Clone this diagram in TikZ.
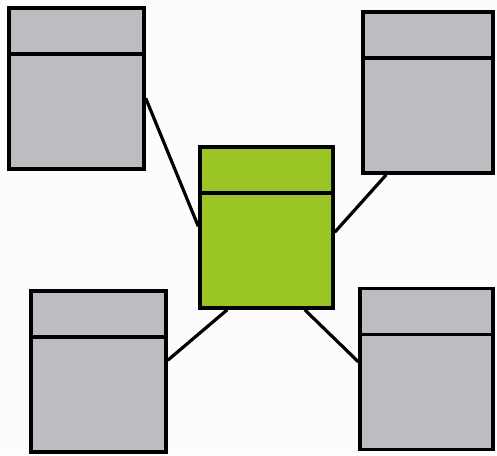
\documentclass[tikz,border=0pt]{standalone}
\usetikzlibrary{calc}
\definecolor{boxgray}{RGB}{189,188,193}
\definecolor{boxgreen}{RGB}{154,197,36}
\definecolor{bgcol}{RGB}{252,252,252}
\begin{document}
\begin{tikzpicture}[x=1pt,y=-1pt,
  tbl/.style={draw=black,line width=3.5pt,rectangle,inner sep=0pt,minimum height=161pt},
  grayfill/.style={tbl,fill=boxgray},
  greenfill/.style={tbl,fill=boxgreen},
  link/.style={draw=black,line width=3.2pt}]
\fill[bgcol] (0,0) rectangle (497,455);
\useasboundingbox (0,0) rectangle (497,455);
\node[grayfill,minimum width=135pt] (tl) at (76.5,88.5) {};
\node[grayfill,minimum width=130pt] (tr) at (428,92.5) {};
\node[greenfill,minimum width=133pt] (c) at (266.5,227.5) {};
\node[grayfill,minimum width=135pt] (bl) at (98.5,371.5) {};
\node[grayfill,minimum width=133pt] (br) at (426.5,369) {};
\foreach \n in {tl,tr,c,bl,br}{
  \draw[line width=3.5pt] ($(\n.north west)+(0,47.5)$) -- ($(\n.north east)+(0,47.5)$);
}
\draw[link] ($(tl.north east)+(0,92)$) -- ($(c.north west)+(0,81)$);
\draw[link] ($(tr.south west)+(25,0)$) -- ($(c.north east)+(0,87)$);
\draw[link] ($(bl.north east)+(0,71)$) -- ($(c.south west)+(29,0)$);
\draw[link] ($(c.south east)+(-30,0)$) -- ($(br.north west)+(0,75)$);
\end{tikzpicture}
\end{document}
